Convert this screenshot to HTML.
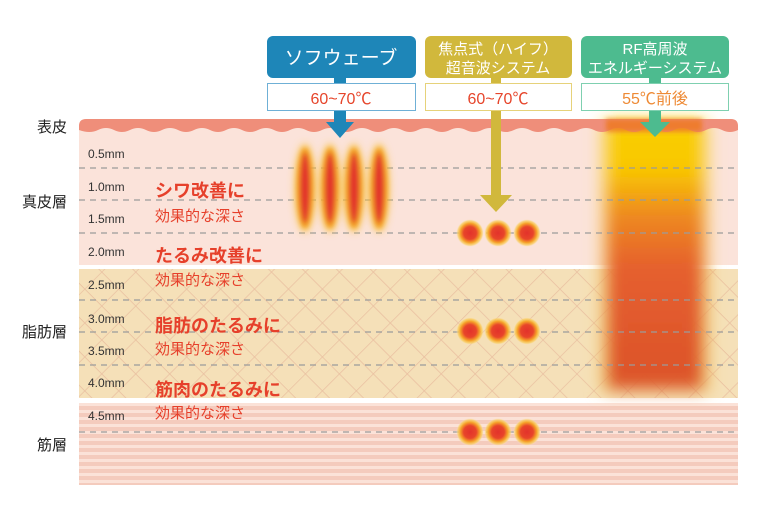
<!DOCTYPE html>
<html><head><meta charset="utf-8"><style>
body{margin:0;background:#fff}
svg{display:block}
text{font-family:"Liberation Sans","Noto Sans CJK JP",sans-serif}
</style></head><body>
<svg width="768" height="510" viewBox="0 0 768 510" xmlns="http://www.w3.org/2000/svg">
<defs>
<pattern id="cross" width="24" height="24" patternUnits="userSpaceOnUse" patternTransform="rotate(45)">
<rect width="24" height="24" fill="#f5e0b8"/>
<path d="M0 0H24M0 0V24" stroke="#e9bfa0" stroke-width="1.4"/>
</pattern>
<pattern id="stripe" width="10" height="7" patternUnits="userSpaceOnUse">
<rect width="10" height="7" fill="#fbe2d8"/>
<rect width="10" height="4" fill="#f4cbbd"/>
</pattern>
<filter id="b1" x="-80%" y="-50%" width="260%" height="200%"><feGaussianBlur stdDeviation="4"/></filter>
<filter id="b2" x="-80%" y="-50%" width="260%" height="200%"><feGaussianBlur stdDeviation="2.5"/></filter>
<filter id="b3" x="-30%" y="-10%" width="160%" height="120%"><feGaussianBlur stdDeviation="8"/></filter>
<linearGradient id="rf" x1="0" y1="0" x2="0" y2="1">
<stop offset="0" stop-color="#f9cf00"/><stop offset="0.18" stop-color="#f9c800"/>
<stop offset="0.35" stop-color="#ee8a20"/><stop offset="0.55" stop-color="#e55f2e"/>
<stop offset="1" stop-color="#dc532b"/></linearGradient>
<radialGradient id="dot"><stop offset="0" stop-color="#e2322b"/><stop offset="0.45" stop-color="#e8452a"/><stop offset="0.7" stop-color="#f6a52a"/><stop offset="0.88" stop-color="#f9d060" stop-opacity="0.7"/><stop offset="1" stop-color="#fbe3da" stop-opacity="0"/></radialGradient>
</defs>
<rect x="79" y="125" width="659" height="140" fill="#fbe3da"/>
<rect x="79" y="269" width="659" height="129" fill="url(#cross)"/>
<rect x="79" y="403" width="659" height="82" fill="url(#stripe)"/>
<g filter="url(#b3)">
<rect x="600" y="120" width="110" height="272" fill="#f8d860" opacity="0.6"/>
<rect x="606" y="120" width="98" height="270" fill="url(#rf)"/>
</g>
<path d="M79 126 Q79 119 86 119 H731 Q738 119 738 126 V130 Q730 134 722 130 Q714 126 706 130 Q698 134 690 130 Q682 126 674 130 Q666 134 658 130 Q650 126 642 130 Q634 134 626 130 Q618 126 610 130 Q602 134 594 130 Q586 126 578 130 Q570 134 562 130 Q554 126 546 130 Q538 134 530 130 Q522 126 514 130 Q506 134 498 130 Q490 126 482 130 Q474 134 466 130 Q458 126 450 130 Q442 134 434 130 Q426 126 418 130 Q410 134 402 130 Q394 126 386 130 Q378 134 370 130 Q362 126 354 130 Q346 134 338 130 Q330 126 322 130 Q314 134 306 130 Q298 126 290 130 Q282 134 274 130 Q266 126 258 130 Q250 134 242 130 Q234 126 226 130 Q218 134 210 130 Q202 126 194 130 Q186 134 178 130 Q170 126 162 130 Q154 134 146 130 Q138 126 130 130 Q122 134 114 130 Q106 126 98 130 Q90 134 79 130 Z" fill="#ef8e7a"/>
<rect x="606" y="119" width="96" height="13" fill="#ee7a22" filter="url(#b2)" opacity="0.85"/>
<g stroke="#9b9b9b" stroke-width="1.2" stroke-dasharray="6 5">
<line x1="79" y1="168" x2="738" y2="168"/><line x1="79" y1="200" x2="738" y2="200"/>
<line x1="79" y1="233" x2="738" y2="233"/><line x1="79" y1="300" x2="738" y2="300"/>
<line x1="79" y1="332" x2="738" y2="332"/><line x1="79" y1="365" x2="738" y2="365"/>
<line x1="79" y1="432" x2="738" y2="432"/></g>
<g filter="url(#b1)">
<ellipse cx="305" cy="188" rx="10" ry="44" fill="#f8c040"/><ellipse cx="330" cy="188" rx="10" ry="44" fill="#f8c040"/>
<ellipse cx="354" cy="188" rx="10" ry="44" fill="#f8c040"/><ellipse cx="379" cy="188" rx="10" ry="44" fill="#f8c040"/>
</g>
<g filter="url(#b2)">
<ellipse cx="305" cy="188" rx="8" ry="40" fill="#f29a22"/><ellipse cx="330" cy="188" rx="8" ry="40" fill="#f29a22"/>
<ellipse cx="354" cy="188" rx="8" ry="40" fill="#f29a22"/><ellipse cx="379" cy="188" rx="8" ry="40" fill="#f29a22"/>
<ellipse cx="305" cy="188" rx="5" ry="35" fill="#e2352b"/><ellipse cx="330" cy="188" rx="5" ry="35" fill="#e2352b"/>
<ellipse cx="354" cy="188" rx="5" ry="35" fill="#e2352b"/><ellipse cx="379" cy="188" rx="5" ry="35" fill="#e2352b"/>
</g>
<g>
<circle cx="470" cy="233" r="14" fill="url(#dot)"/><circle cx="498" cy="233" r="14" fill="url(#dot)"/><circle cx="527" cy="233" r="14" fill="url(#dot)"/>
<circle cx="470" cy="331" r="14" fill="url(#dot)"/><circle cx="498" cy="331" r="14" fill="url(#dot)"/><circle cx="527" cy="331" r="14" fill="url(#dot)"/>
<circle cx="470" cy="432" r="14" fill="url(#dot)"/><circle cx="498" cy="432" r="14" fill="url(#dot)"/><circle cx="527" cy="432" r="14" fill="url(#dot)"/>
</g>
<rect x="267" y="36" width="149" height="42" rx="6" fill="#1e86b8"/>
<text x="341" y="64" fill="#fff" font-size="19" text-anchor="middle">ソフウェーブ</text>
<rect x="425" y="36" width="147" height="42" rx="6" fill="#d1b83c"/>
<text x="498" y="54" fill="#fff" font-size="15" text-anchor="middle">焦点式（ハイフ）</text>
<text x="498" y="73" fill="#fff" font-size="15" text-anchor="middle">超音波システム</text>
<rect x="581" y="36" width="148" height="42" rx="6" fill="#4dbb8f"/>
<text x="655" y="54" fill="#fff" font-size="15" text-anchor="middle">RF高周波</text>
<text x="655" y="73" fill="#fff" font-size="15" text-anchor="middle">エネルギーシステム</text>
<rect x="334" y="78" width="12" height="45" fill="#1e86b8"/>
<polygon points="326,122 354,122 340,138" fill="#1e86b8"/>
<rect x="491" y="78" width="10" height="118" fill="#d1b83c"/>
<polygon points="480,195 512,195 496,212" fill="#d1b83c"/>
<rect x="649" y="78" width="12" height="45" fill="#4dbb8f"/>
<polygon points="640,122 670,122 655,137" fill="#4dbb8f"/>
<rect x="267.5" y="83.5" width="148" height="27" fill="#fff" stroke="#6fb0d6"/>
<text x="341" y="104" fill="#e6452b" font-size="16" text-anchor="middle">60~70℃</text>
<rect x="425.5" y="83.5" width="146" height="27" fill="#fff" stroke="#e6d27a"/>
<text x="498" y="104" fill="#e6452b" font-size="16" text-anchor="middle">60~70℃</text>
<rect x="581.5" y="83.5" width="147" height="27" fill="#fff" stroke="#7fd0b0"/>
<text x="655" y="104" fill="#ee8a35" font-size="16" text-anchor="middle">55℃前後</text>
<g font-size="15" fill="#222" text-anchor="end">
<text x="67" y="132">表皮</text><text x="67" y="207">真皮層</text>
<text x="67" y="337">脂肪層</text><text x="67" y="450">筋層</text></g>
<g font-size="12" fill="#333">
<text x="88" y="158">0.5mm</text><text x="88" y="191">1.0mm</text><text x="88" y="223">1.5mm</text>
<text x="88" y="256">2.0mm</text><text x="88" y="289">2.5mm</text><text x="88" y="323">3.0mm</text>
<text x="88" y="355">3.5mm</text><text x="88" y="387">4.0mm</text><text x="88" y="420">4.5mm</text></g>
<g fill="#e6402b">
<text x="155" y="197" font-size="18" font-weight="bold">シワ改善に</text>
<text x="155" y="221" font-size="15">効果的な深さ</text>
<text x="155" y="262" font-size="18" font-weight="bold">たるみ改善に</text>
<text x="155" y="285" font-size="15">効果的な深さ</text>
<text x="155" y="332" font-size="18" font-weight="bold">脂肪のたるみに</text>
<text x="155" y="354" font-size="15">効果的な深さ</text>
<text x="155" y="396" font-size="18" font-weight="bold">筋肉のたるみに</text>
<text x="155" y="418" font-size="15">効果的な深さ</text>
</g>
</svg>
</body></html>
